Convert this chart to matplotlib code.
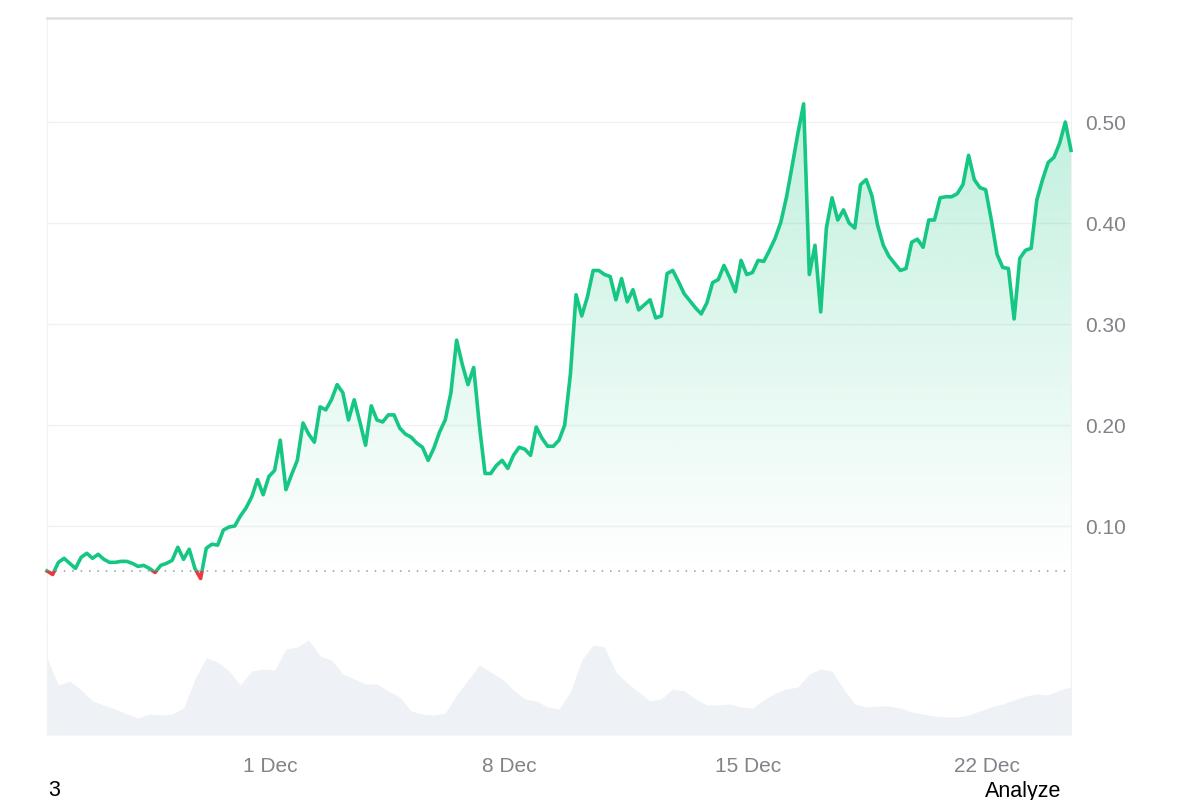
import numpy as np
import pandas as pd
import matplotlib
matplotlib.use("Agg")
import matplotlib.pyplot as plt
import matplotlib.dates as mdates
from matplotlib.patches import Rectangle, Polygon

prices = [
    0.0555, 0.052, 0.064, 0.068, 0.063, 0.058, 0.069, 0.073, 0.068, 0.072,
    0.067, 0.064, 0.064, 0.065, 0.065, 0.063, 0.060, 0.061, 0.058, 0.054,
    0.061, 0.063, 0.066, 0.079, 0.067, 0.077, 0.058, 0.048, 0.078, 0.082,
    0.081, 0.096, 0.099, 0.100, 0.110, 0.118, 0.129, 0.146, 0.131, 0.149,
    0.155, 0.185, 0.136, 0.151, 0.165, 0.202, 0.191, 0.183, 0.218, 0.215,
    0.225, 0.240, 0.232, 0.205, 0.225, 0.203, 0.180, 0.219, 0.205, 0.203,
    0.210, 0.210, 0.197, 0.191, 0.188, 0.182, 0.178, 0.165, 0.177, 0.193,
    0.205, 0.232, 0.284, 0.260, 0.240, 0.257, 0.200, 0.152, 0.152, 0.160,
    0.165, 0.157, 0.170, 0.178, 0.176, 0.170, 0.198, 0.187, 0.179, 0.179,
    0.185, 0.200, 0.250, 0.329, 0.308, 0.327, 0.353, 0.353, 0.349, 0.347,
    0.324, 0.345, 0.322, 0.334, 0.314, 0.319, 0.324, 0.306, 0.308, 0.350,
    0.353, 0.342, 0.330, 0.323, 0.316, 0.310, 0.321, 0.341, 0.344, 0.358,
    0.346, 0.332, 0.363, 0.349, 0.351, 0.363, 0.362, 0.373, 0.385, 0.401,
    0.426, 0.457, 0.489, 0.518, 0.349, 0.378, 0.312, 0.395, 0.425, 0.403,
    0.413, 0.400, 0.395, 0.438, 0.443, 0.427, 0.398, 0.378, 0.367, 0.360,
    0.353, 0.355, 0.381, 0.384, 0.376, 0.403, 0.403, 0.425, 0.426, 0.426,
    0.429, 0.438, 0.467, 0.443, 0.435, 0.433, 0.403, 0.369, 0.356, 0.355,
    0.305, 0.365, 0.373, 0.375, 0.423, 0.443, 0.460, 0.465, 0.479, 0.500,
    0.472,
]

# volume, sampled every 8 hours (arbitrary units)
volumes = [
    77, 50, 54, 45, 34, 30, 26, 21, 17, 21, 20, 21, 27, 56, 77, 73, 64, 50,
    64, 66, 65, 86, 88, 95, 79, 75, 61, 56, 51, 51, 44, 38, 24, 21, 20, 22,
    40, 55, 70, 63, 56, 45, 36, 34, 28, 26, 43, 75, 90, 88, 63, 52, 43, 34,
    36, 46, 44, 36, 30, 30, 31, 28, 27, 35, 42, 46, 48, 61, 66, 64, 46, 31,
    28, 29, 29, 27, 23, 21, 19, 18, 18, 20, 24, 28, 31, 35, 39, 41, 40, 45,
    48,
]

start = pd.Timestamp("2024-11-24 11:00")
price_times = pd.date_range(start, periods=len(prices), freq="4h")
vol_times = pd.date_range(start, periods=len(volumes), freq="8h")

y_ticks = [0.10, 0.20, 0.30, 0.40, 0.50]
y_labels = ["0.10", "0.20", "0.30", "0.40", "0.50"]
x_ticks = ["2024-12-01", "2024-12-08", "2024-12-15", "2024-12-22"]
x_labels = ["1 Dec", "8 Dec", "15 Dec", "22 Dec"]

green = "#16c784"
red = "#ea3943"
grid_col = "#f1f1f1"
text_col = "#808388"

plt.rcParams["font.family"] = ["Liberation Sans", "DejaVu Sans"]

fig = plt.figure(figsize=(12, 8), dpi=100)
ax = fig.add_axes([47 / 1200, 1 - 627 / 800, 1024 / 1200, 609 / 800])
vax = fig.add_axes([47 / 1200, 1 - 735 / 800, 1024 / 1200, 108 / 800], sharex=ax)

x = mdates.date2num(price_times)
p = np.array(prices)
base = prices[0]
x0, x1 = x[0], x[-1]

ax.set_xlim(x0, x1)
ax.set_ylim(0, 0.603)

for t in y_ticks:
    ax.axhline(t, color=grid_col, lw=1.0, zorder=0)

# gradient fill between line and the opening price
poly = Polygon(np.column_stack([np.r_[x, x[::-1]], np.r_[np.maximum(p, base), np.full(len(p), base)]]),
               closed=True, facecolor="none", edgecolor="none", transform=ax.transData)
ax.add_patch(poly)
grad = np.linspace(0, 1, 256).reshape(-1, 1)
rgba = np.zeros((256, 1, 4))
rgba[..., 0] = 22 / 255
rgba[..., 1] = 199 / 255
rgba[..., 2] = 132 / 255
rgba[..., 3] = grad * 0.27
img = ax.imshow(rgba, extent=[x0, x1, base, p.max()], origin="lower", aspect="auto", zorder=1)
img.set_clip_path(poly)

# line: green above opening price, red below
up, = ax.plot(x, p, color=green, lw=2.6, solid_joinstyle="round", zorder=3)
dn, = ax.plot(x, p, color=red, lw=2.6, solid_joinstyle="round", zorder=3)
up.set_clip_path(Rectangle((x0 - 5, base), x1 - x0 + 10, 1, transform=ax.transData))
dn.set_clip_path(Rectangle((x0 - 5, -1), x1 - x0 + 10, 1 + base, transform=ax.transData))

ax.axhline(base, color="#9a9a9a", lw=1.1, ls=(0, (1, 4.5)), zorder=2)

ax.yaxis.tick_right()
ax.set_yticks(y_ticks)
ax.set_yticklabels(y_labels)
ax.tick_params(axis="y", length=0, pad=10, labelsize=15, labelcolor=text_col)
ax.tick_params(axis="x", bottom=False, labelbottom=False)
ax.spines["top"].set_color("#dedede")
ax.spines["top"].set_linewidth(1.8)
ax.spines["bottom"].set_color(grid_col)
ax.spines["left"].set_color(grid_col)
ax.spines["right"].set_color(grid_col)

# volume
vx = mdates.date2num(vol_times)
vax.fill_between(vx, volumes, 0, color="#eef1f5", lw=0)
vax.set_ylim(0, 108)
vax.set_yticks([])
for s in ["top", "bottom"]:
    vax.spines[s].set_visible(False)
vax.spines["left"].set_color(grid_col)
vax.spines["right"].set_color(grid_col)
vax.set_xticks(mdates.date2num(pd.to_datetime(x_ticks)))
vax.set_xticklabels(x_labels)
vax.tick_params(axis="x", length=0, pad=16, labelsize=15, labelcolor=text_col)

fig.text(48 / 1200, 1 - 791 / 800, "3", fontsize=15.5, color="black", ha="left", va="center")
fig.text(1061 / 1200, 1 - 791 / 800, "Analyze", fontsize=15.5, color="black", ha="right", va="center")

fig.savefig("out.png", dpi=100, facecolor="white")
